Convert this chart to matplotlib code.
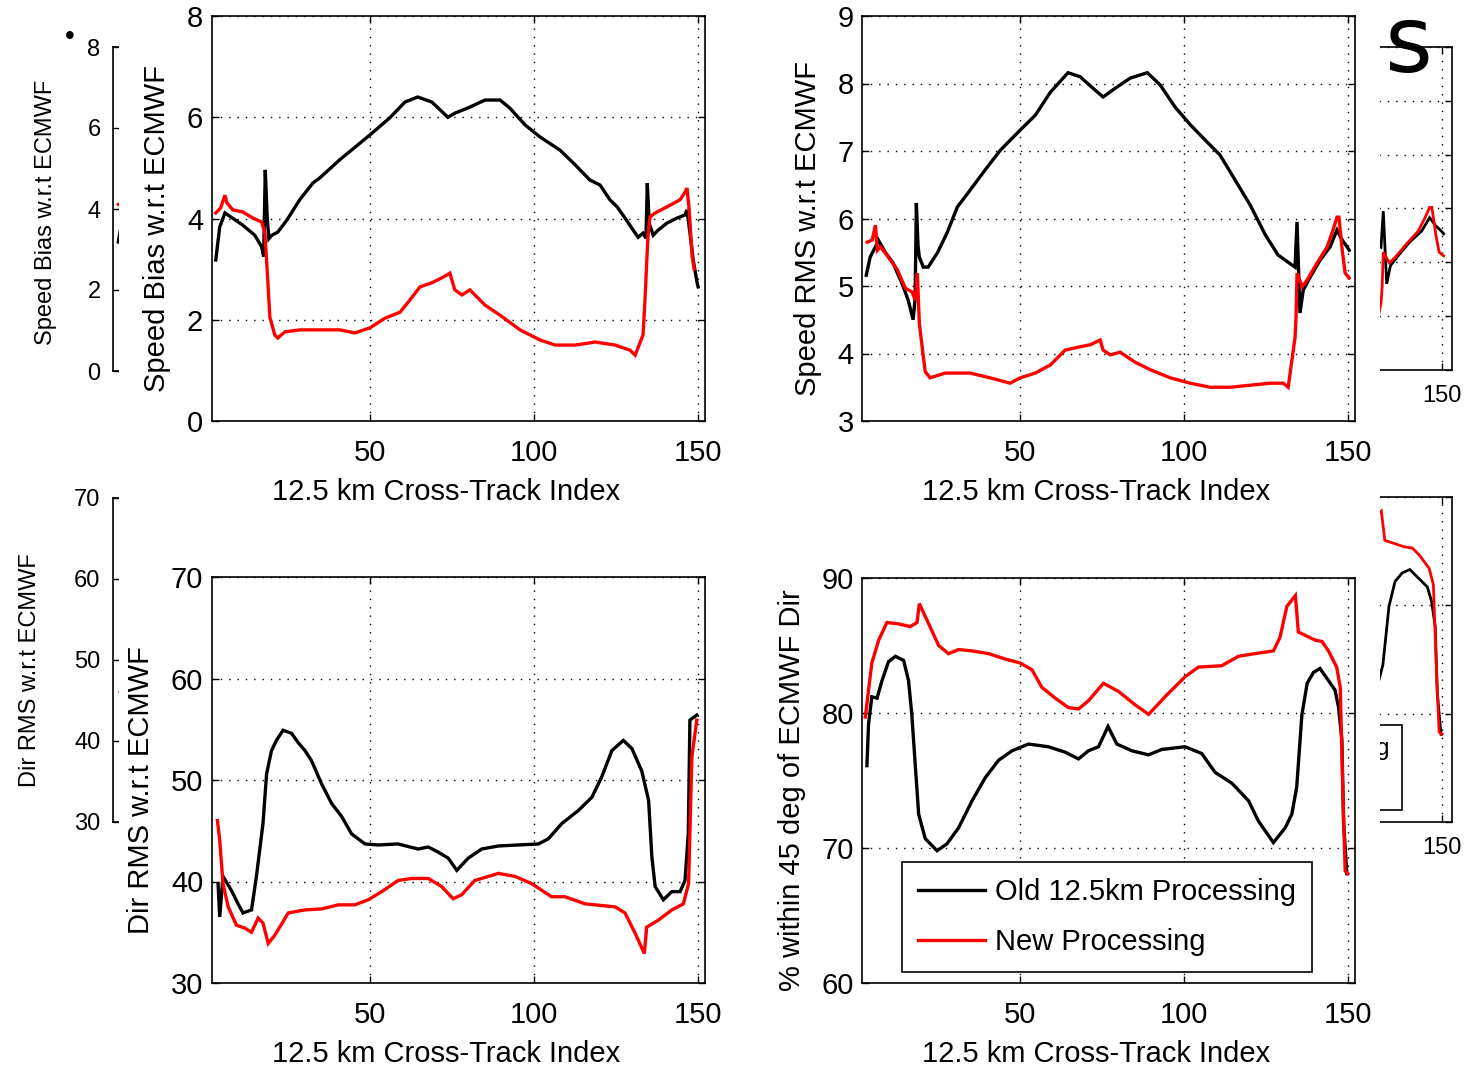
import matplotlib
matplotlib.use("Agg")
import matplotlib.pyplot as plt
from matplotlib.patches import Rectangle
from matplotlib.lines import Line2D

W, H = 1478, 1067
plt.rcParams["font.family"] = ["Liberation Sans", "DejaVu Sans"]

# cross-track speed bias (m/s)
bias_old_x = [3.0, 4.2, 5.8, 6.7, 11.2, 14.9, 17.0, 17.6, 18.1, 18.7, 19.2, 20.1, 21.9, 24.7, 28.6,
              32.6, 34.7, 40.8, 50.0, 56.1, 60.7, 64.6, 68.9, 73.8, 75.9, 80.5, 85.1, 89.7, 92.7,
              97.3, 101.9, 108.0, 112.6, 117.1, 120.2, 123.2, 125.4, 127.8, 130.3, 131.8, 133.3,
              134.2, 134.6, 135.2, 136.4, 137.9, 140.6, 143.7, 146.1, 146.7, 147.7, 148.6, 149.8, 150.1]
bias_old = [3.18, 3.83, 4.11, 4.07, 3.87, 3.67, 3.44, 3.25, 4.96, 4.00, 3.60, 3.67, 3.73, 3.97, 4.37,
            4.70, 4.80, 5.16, 5.65, 5.99, 6.30, 6.40, 6.30, 6.00, 6.08, 6.20, 6.34, 6.34, 6.18,
            5.85, 5.61, 5.35, 5.06, 4.76, 4.66, 4.37, 4.23, 4.01, 3.77, 3.63, 3.71,
            3.61, 4.70, 3.90, 3.67, 3.77, 3.91, 4.01, 4.07, 4.17, 3.67, 3.18, 2.73, 2.65]
bias_new_x = [3.0, 4.5, 5.8, 6.4, 8.2, 11.2, 14.3, 17.0, 18.0, 18.9, 19.5, 21.0, 21.9, 24.1, 28.6,
              33.8, 40.8, 45.4, 50.0, 54.6, 59.2, 62.2, 65.3, 68.9, 72.3, 74.4, 75.9, 78.1, 80.5,
              85.1, 89.7, 95.8, 101.9, 106.5, 112.6, 118.7, 124.8, 129.3, 130.9, 133.3, 133.9,
              134.5, 134.8, 135.4, 137.0, 140.6, 144.6, 146.1, 146.7, 147.3, 148.3, 148.9]
bias_new = [4.11, 4.21, 4.46, 4.31, 4.17, 4.13, 4.01, 3.93, 3.71, 2.73, 2.05, 1.70, 1.64, 1.76, 1.80,
            1.80, 1.80, 1.74, 1.84, 2.03, 2.15, 2.39, 2.65, 2.73, 2.84, 2.92, 2.59, 2.49, 2.59,
            2.29, 2.09, 1.80, 1.60, 1.50, 1.50, 1.56, 1.50, 1.40, 1.30, 1.70, 2.39,
            3.24, 3.63, 4.03, 4.11, 4.23, 4.37, 4.52, 4.60, 4.23, 3.24, 3.00]

# cross-track speed RMS (m/s)
rms_old_x = [3.0, 4.2, 5.8, 6.7, 8.8, 11.2, 14.3, 15.8, 17.3, 17.9, 18.3, 18.8, 19.2, 20.4, 21.9,
             24.7, 27.7, 30.8, 34.7, 39.3, 43.9, 50.0, 54.6, 59.2, 64.6, 68.3, 72.9, 75.3, 79.0,
             83.6, 88.8, 92.7, 97.3, 101.9, 106.5, 111.0, 115.6, 120.2, 124.8, 128.7, 132.4,
             133.9, 134.5, 135.0, 135.4, 136.4, 138.5, 141.5, 144.6, 146.7, 148.3, 149.8, 150.4]
rms_old = [5.16, 5.43, 5.58, 5.68, 5.50, 5.34, 4.99, 4.79, 4.50, 4.80, 6.23, 5.60, 5.43, 5.28, 5.28,
           5.49, 5.79, 6.17, 6.42, 6.72, 7.01, 7.31, 7.53, 7.87, 8.16, 8.10, 7.90, 7.80, 7.93,
           8.08, 8.16, 7.98, 7.65, 7.39, 7.16, 6.94, 6.57, 6.20, 5.76, 5.46, 5.33,
           5.28, 5.95, 5.20, 4.60, 4.94, 5.13, 5.38, 5.58, 5.83, 5.68, 5.58, 5.53]
rms_new_x = [3.3, 4.8, 5.8, 6.4, 7.3, 9.7, 12.5, 14.9, 17.0, 18.0, 18.6, 19.2, 19.8, 21.0, 22.5,
             27.1, 34.7, 40.8, 46.9, 50.0, 54.6, 59.2, 63.7, 68.3, 71.4, 74.4, 75.3, 77.5, 80.5,
             85.1, 89.7, 95.8, 101.9, 108.0, 114.1, 120.2, 126.3, 130.3, 131.8, 133.9, 134.2,
             134.5, 136.1, 137.6, 140.6, 143.7, 145.5, 146.7, 147.3, 148.3, 149.2, 150.4]
rms_new = [5.65, 5.68, 5.90, 5.53, 5.58, 5.43, 5.24, 4.97, 4.91, 4.79, 5.19, 4.45, 4.20, 3.73, 3.64,
           3.71, 3.71, 3.64, 3.56, 3.64, 3.71, 3.83, 4.05, 4.10, 4.13, 4.20, 4.05, 3.98, 4.02,
           3.87, 3.76, 3.64, 3.56, 3.50, 3.50, 3.53, 3.56, 3.56, 3.50, 4.24, 4.54,
           5.19, 4.99, 5.09, 5.34, 5.58, 5.83, 6.02, 6.02, 5.53, 5.19, 5.12]

# cross-track direction RMS (deg)
dir_old_x = [3.7, 4.2, 5.2, 7.8, 9.8, 11.3, 13.9, 15.4, 17.4, 18.5, 20.0, 21.5, 23.5, 26.1, 28.1,
             30.2, 32.2, 35.3, 38.3, 41.4, 44.4, 48.5, 52.5, 58.6, 64.7, 67.8, 70.8, 73.9, 76.5,
             80.0, 84.1, 89.2, 95.3, 101.4, 104.4, 108.5, 113.6, 117.7, 120.7, 123.8, 127.3,
             129.9, 132.9, 135.0, 136.0, 137.0, 139.5, 142.1, 144.6, 146.1, 147.1, 147.6, 149.7]
dir_old = [39.8, 36.5, 40.5, 39.1, 37.8, 36.9, 37.2, 40.5, 45.7, 50.6, 52.9, 53.9, 54.9, 54.6, 53.7,
           52.9, 51.9, 49.6, 47.7, 46.4, 44.7, 43.7, 43.6, 43.7, 43.2, 43.4, 42.9, 42.3, 41.1,
           42.3, 43.2, 43.5, 43.6, 43.7, 44.2, 45.7, 47.0, 48.3, 50.3, 52.9, 53.9,
           53.1, 50.9, 48.0, 42.4, 39.5, 38.2, 39.0, 39.0, 40.1, 44.7, 55.9, 56.4]
dir_new_x = [3.5, 4.2, 5.2, 6.8, 9.3, 11.9, 13.9, 15.9, 17.4, 19.0, 21.0, 25.1, 30.2, 35.3, 40.4,
             45.4, 49.5, 53.6, 58.6, 62.7, 67.8, 71.9, 75.4, 78.0, 82.0, 89.2, 94.3, 99.3, 105.4,
             109.5, 115.6, 124.8, 127.8, 130.9, 133.7, 134.4, 138.0, 142.1, 145.6, 147.2, 148.2, 149.7]
dir_new = [46.0, 44.1, 39.8, 37.5, 35.7, 35.4, 35.0, 36.4, 35.9, 33.9, 34.7, 36.9, 37.2, 37.3, 37.7,
           37.7, 38.2, 39.0, 40.1, 40.3, 40.3, 39.5, 38.3, 38.7, 40.1, 40.8, 40.5, 39.8, 38.5,
           38.5, 37.8, 37.5, 36.9, 34.9, 32.9, 35.5, 36.2, 37.2, 37.8, 39.8, 52.3, 55.9]

# % of winds within 45 deg of ECMWF direction
pct_old_x = [3.2, 3.7, 4.7, 6.3, 7.8, 9.8, 11.9, 14.4, 15.9, 16.9, 18.0, 19.0, 21.0, 24.6, 27.6,
             31.2, 35.3, 39.3, 43.4, 47.5, 52.5, 58.6, 63.7, 67.8, 70.8, 73.9, 76.8, 79.5, 84.1,
             89.2, 93.2, 100.3, 105.4, 109.5, 114.6, 119.7, 122.7, 127.3, 130.9, 132.9, 134.4,
             136.0, 137.6, 139.5, 141.5, 144.1, 146.1, 147.2, 148.2, 148.7, 149.7]
pct_old = [76.1, 79.2, 81.2, 81.1, 82.4, 83.8, 84.2, 83.9, 82.4, 79.9, 76.0, 72.5, 70.7, 69.8, 70.3,
           71.5, 73.5, 75.2, 76.5, 77.2, 77.7, 77.5, 77.1, 76.6, 77.2, 77.5, 79.0, 77.7, 77.2,
           76.9, 77.3, 77.5, 77.0, 75.6, 74.8, 73.5, 72.0, 70.4, 71.5, 72.5, 74.5,
           79.9, 82.2, 83.0, 83.3, 82.4, 81.7, 80.4, 78.0, 72.0, 68.1]
pct_new_x = [2.7, 3.7, 4.7, 6.8, 9.3, 12.9, 16.4, 18.5, 19.2, 21.5, 25.1, 28.1, 31.2, 35.3, 40.3,
             45.4, 50.0, 53.6, 56.6, 60.7, 64.7, 67.8, 70.8, 75.4, 80.0, 85.1, 89.2, 94.2, 100.4,
             104.4, 111.5, 116.6, 121.7, 127.3, 129.3, 131.4, 134.0, 134.9, 140.0, 142.1, 144.1,
             146.6, 147.7, 148.4, 149.2, 150.0]
pct_new = [79.7, 81.7, 83.7, 85.4, 86.7, 86.6, 86.4, 86.7, 88.1, 86.9, 85.0, 84.4, 84.7, 84.6, 84.4,
           84.0, 83.7, 83.2, 81.9, 81.1, 80.4, 80.3, 80.9, 82.2, 81.6, 80.6, 79.9, 81.2, 82.7,
           83.4, 83.5, 84.2, 84.4, 84.6, 85.6, 87.9, 88.7, 86.0, 85.4, 85.3, 84.6,
           83.4, 81.9, 75.0, 68.3, 68.1]

series_names = ["Old 12.5km Processing", "New Processing"]
xlabel = "12.5 km Cross-Track Index"
xticks = [50, 100, 150]


def px_rect(l, t, r, b):
    return [l / W, 1 - b / H, (r - l) / W, (b - t) / H]


def fig_xy(x, y):
    return x / W, 1 - y / H


def setup(ax, xlim, ylim, yticks, fs, grid=True, xpad=13, ypad=6):
    ax.set_xlim(*xlim)
    ax.set_ylim(*ylim)
    ax.set_xticks(xticks)
    ax.set_yticks(yticks)
    ax.tick_params(direction="in", top=True, right=True, length=5, width=1,
                   labelsize=fs, colors="k")
    ax.tick_params(axis="x", pad=xpad)
    ax.tick_params(axis="y", pad=ypad)
    for s in ax.spines.values():
        s.set_linewidth(1.2)
    if grid:
        ax.grid(True, color="k", linestyle=(0, (1, 5)), linewidth=1)
    ax.set_facecolor("white")


def curves(ax, xo, yo, xn, yn, lw=2.4):
    ax.plot(xo, yo, color="k", lw=lw, solid_joinstyle="miter")
    ax.plot(xn, yn, color="#ff0000", lw=lw, solid_joinstyle="miter")


fig = plt.figure(figsize=(W / 100, H / 100), dpi=100)
fig.patch.set_facecolor("white")

FS = 21
BFS = 17
XL = (1.7, 152.2)

# ---- partly hidden panels underneath ----
bg_tl = fig.add_axes(px_rect(113, 47, 690, 371), zorder=0)
setup(bg_tl, XL, (0, 8), [0, 2, 4, 6, 8], BFS, grid=False, ypad=9)
bg_tl.tick_params(labelbottom=False)
curves(bg_tl, bias_old_x, bias_old, bias_new_x, bias_new, lw=2)
bg_tl.set_ylabel("Speed Bias w.r.t ECMWF", fontsize=BFS, va="center")
bg_tl.yaxis.set_label_coords(*fig_xy(46, 212), transform=fig.transFigure)

bg_bl = fig.add_axes(px_rect(113, 498, 690, 822), zorder=0)
setup(bg_bl, XL, (30, 70), [30, 40, 50, 60, 70], BFS, grid=False, ypad=9)
bg_bl.tick_params(labelbottom=False)
curves(bg_bl, dir_old_x, dir_old, dir_new_x, dir_new, lw=2)
bg_bl.set_ylabel("Dir RMS w.r.t ECMWF", fontsize=BFS, va="center")
bg_bl.yaxis.set_label_coords(*fig_xy(30, 670), transform=fig.transFigure)

BXL = (1.7, 152.6)
bg_tr = fig.add_axes(px_rect(879, 47, 1452, 370), zorder=0)
setup(bg_tr, BXL, (3, 9), [3, 4, 5, 6, 7, 8, 9], BFS, xpad=11)
bg_tr.tick_params(labelleft=False)
bg_tr.set_xticklabels(["", "", "150"])
curves(bg_tr, rms_old_x, rms_old, rms_new_x, rms_new, lw=2)

bg_br = fig.add_axes(px_rect(879, 497, 1452, 822), zorder=0)
setup(bg_br, BXL, (60, 90), [60, 70, 80, 90], BFS, xpad=11)
bg_br.tick_params(labelleft=False)
bg_br.set_xticklabels(["", "", "150"])
curves(bg_br, pct_old_x, pct_old, pct_new_x, pct_new, lw=2)
bleg = bg_br.legend([Line2D([], [], color="k", lw=2), Line2D([], [], color="#ff0000", lw=2)],
                    series_names, loc="upper right", bbox_to_anchor=fig_xy(1402, 725),
                    bbox_transform=fig.transFigure, borderaxespad=0, fancybox=False,
                    edgecolor="k", framealpha=1, fontsize=BFS, handlelength=2.3,
                    handletextpad=0.35, borderpad=0.55, labelspacing=0.65)
bleg.get_frame().set_linewidth(1.2)

# slide title tail, mostly covered by the plots
fig.text(1384 / W, 1 - 72 / H, "e", fontsize=66, family="DejaVu Sans",
         ha="right", va="baseline", zorder=0.5)
fig.text(1433 / W, 1 - 72 / H, "s", fontsize=66, family="DejaVu Sans",
         ha="right", va="baseline", zorder=0.5)
fig.text(70 / W, 1 - 37 / H, "\u2022", fontsize=20, ha="center", va="center", zorder=0.5)

# white sheet carrying the four main panels
fig.add_artist(Rectangle((119 / W, 0), (1380 - 119) / W, 1, transform=fig.transFigure,
                         facecolor="white", edgecolor="none", zorder=1))

# ---- main panels ----
panels = [
    ((211.5, 16, 705, 421), (0, 8), [0, 2, 4, 6, 8], "Speed Bias w.r.t ECMWF", 157,
     bias_old_x, bias_old, bias_new_x, bias_new),
    ((862, 16, 1355, 421), (3, 9), [3, 4, 5, 6, 7, 8, 9], "Speed RMS w.r.t ECMWF", 808,
     rms_old_x, rms_old, rms_new_x, rms_new),
    ((211.5, 577, 705, 983), (30, 70), [30, 40, 50, 60, 70], "Dir RMS w.r.t ECMWF", 141,
     dir_old_x, dir_old, dir_new_x, dir_new),
    ((862, 578, 1355, 983), (60, 90), [60, 70, 80, 90], "% within 45 deg of ECMWF Dir", 792,
     pct_old_x, pct_old, pct_new_x, pct_new),
]

axes = []
for (l, t, r, b), ylim, yt, ylab, ylx, xo, yo, xn, yn in panels:
    ax = fig.add_axes(px_rect(l, t, r, b), zorder=2)
    setup(ax, XL, ylim, yt, FS)
    curves(ax, xo, yo, xn, yn)
    ax.set_xlabel(xlabel, fontsize=FS)
    ax.xaxis.set_label_coords(*fig_xy((l + r) / 2 - 12, b + 57), transform=fig.transFigure)
    ax.set_ylabel(ylab, fontsize=FS, va="center")
    ax.yaxis.set_label_coords(*fig_xy(ylx, (t + b) / 2 + 10), transform=fig.transFigure)
    axes.append(ax)

leg = axes[3].legend(series_names, loc="upper left", bbox_to_anchor=fig_xy(902, 862),
                     bbox_transform=fig.transFigure, borderaxespad=0, fancybox=False,
                     edgecolor="k", framealpha=1, fontsize=FS, handlelength=2.3,
                     handletextpad=0.35, borderpad=0.55, labelspacing=0.75)
leg.get_frame().set_linewidth(1.2)

fig.savefig("out.png", dpi=100)
